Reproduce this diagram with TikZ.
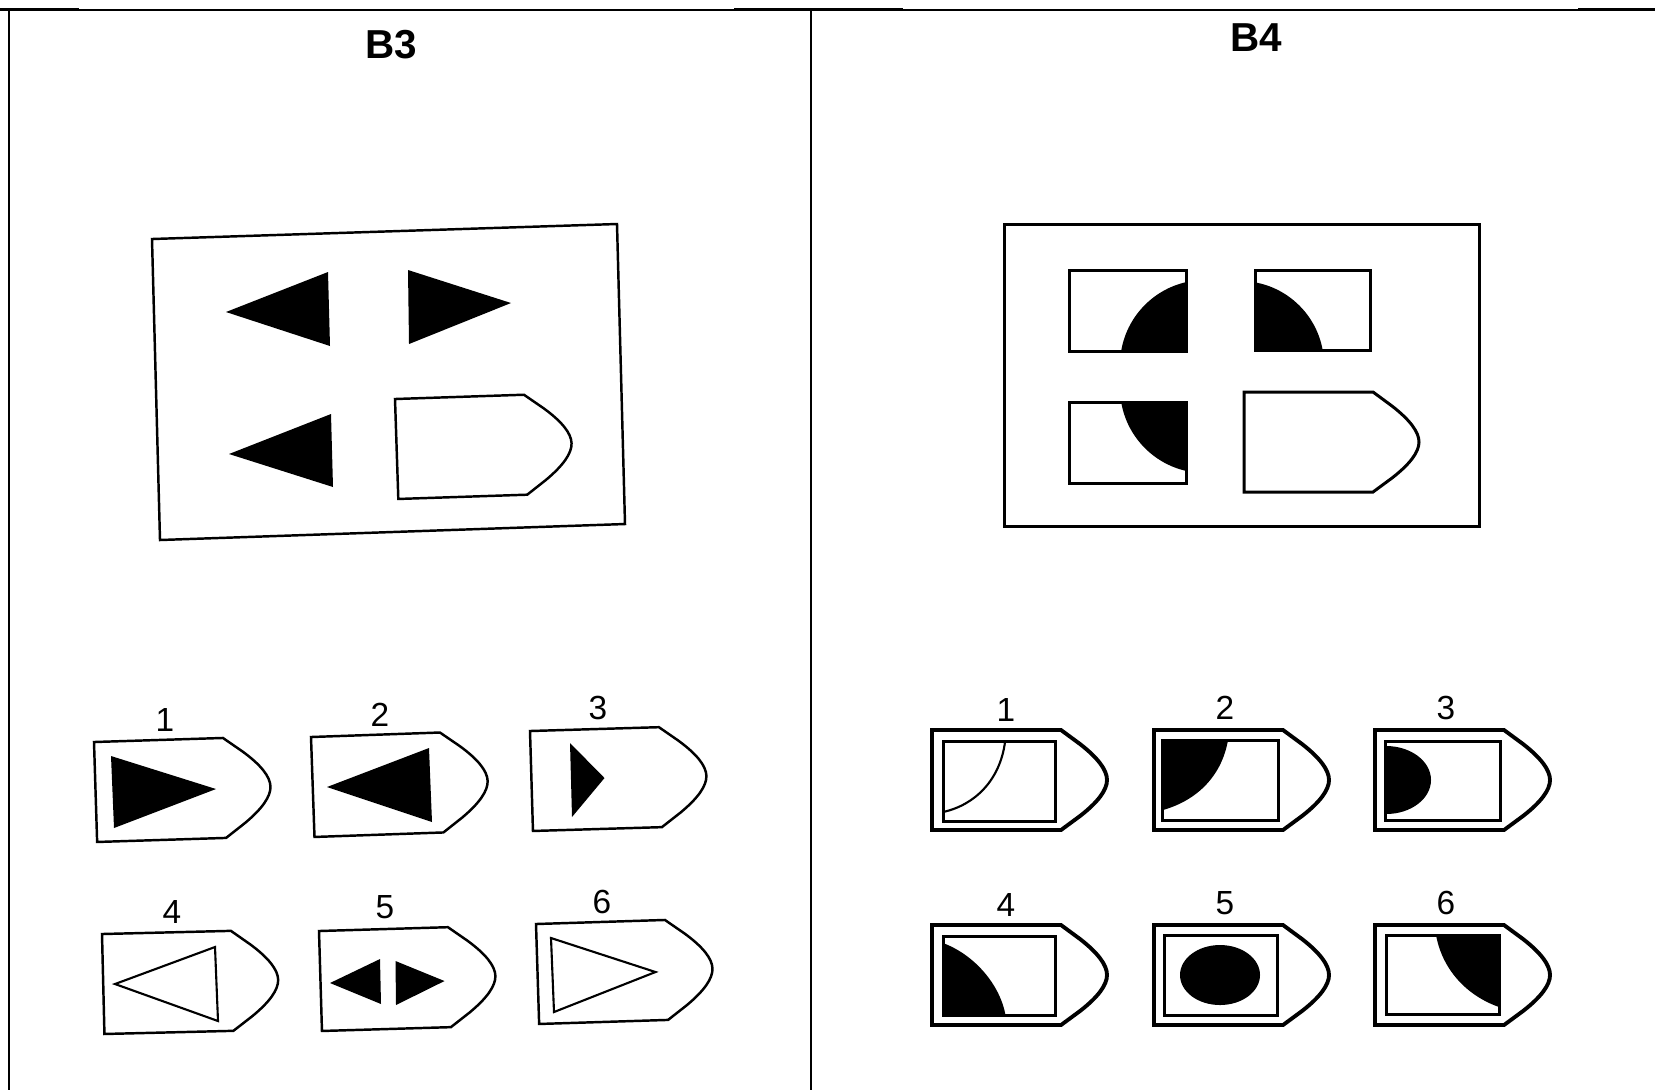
\documentclass[tikz,border=0pt]{standalone}
\usepackage{fontspec}
\setmainfont{Liberation Sans}

\begin{document}
\begin{tikzpicture}[x=0.01cm, y=-0.01cm,
    frame/.style={line width=0.4pt},
    figline/.style={line width=0.7pt},
    boldline/.style={line width=0.85pt},
    heavyline/.style={line width=1.1pt},
    title/.style={font=\fontsize{11.5}{14}\selectfont\bfseries},
    num/.style={font=\fontsize{9.5}{11}\selectfont},
    tagshape/.pic={
      \draw[pic actions] (0,0) -- (129,0) -- (148,14)
        .. controls (166,28) and (175,40) .. (175,50)
        .. controls (175,60) and (166,72) .. (148,86)
        -- (129,100) -- (0,100) -- cycle;
    }]
    \useasboundingbox (0,0) rectangle (1655,1090);

    % table rules
    \draw[frame] (0,9.8) -- (1655,9.8);
    \draw[line width=0.9pt] (0,9.5) -- (79,9.5);
    \draw[line width=0.9pt] (734,9.5) -- (903,9.5);
    \draw[line width=0.9pt] (1578,9.5) -- (1655,9.5);
    \draw[frame] (9,9.8) -- (9,1090);
    \draw[frame] (811,9.8) -- (811,1090);

    \node[title] (b3) at (391,45) {B3};
    \node[title] (b4) at (1256,38) {B4};

    % B3 matrix
    \draw[figline] (152,239) -- (617,224) -- (625,524) -- (160,540) -- cycle;
    \fill[black] (226,312) -- (328,272) -- (330,346) -- cycle;
    \fill[black] (408,270) -- (511,303) -- (409,344) -- cycle;
    \fill[black] (229,454) -- (331,414) -- (333,487) -- cycle;
    \pic[figline, rotate=1.9] at (395,399) {tagshape};

    % B3 answers
    \node[num] (a1) at (165,720) {1};
    \pic[figline, rotate=1.8] at (94,742) {tagshape};
    \fill[black] (111,756) -- (216,789) -- (114,828) -- cycle;

    \node[num] (a2) at (380,715) {2};
    \pic[figline, rotate=2] at (311,737) {tagshape};
    \fill[black] (327,787) -- (429,748) -- (432,822) -- cycle;

    \node[num] (a3) at (598,708) {3};
    \pic[figline, rotate=1.7] at (530,731) {tagshape};
    \fill[black] (570,743) -- (604.5,778) -- (572,817) -- cycle;

    \node[num] (a4) at (172,912) {4};
    \pic[figline, rotate=1.4] at (102,934) {tagshape};
    \draw[line width=0.6pt] (115,984) -- (215,947) -- (218,1021) -- cycle;

    \node[num] (a5) at (385,907) {5};
    \pic[figline, rotate=1.7] at (319,931) {tagshape};
    \fill[black] (330,983) -- (380,959) -- (381,1004) -- cycle;
    \fill[black] (395.5,961) -- (444.5,981) -- (396,1005) -- cycle;

    \node[num] (a6) at (602,902) {6};
    \pic[figline, rotate=1.8] at (536,924) {tagshape};
    \draw[line width=0.6pt] (551,938) -- (655.5,972) -- (554,1012) -- cycle;

    % B4 matrix
    \draw[boldline] (1004,224) rectangle (1479,526);
    \begin{scope}
      \clip (1069,270) rectangle (1186,351);
      \fill[black] (1205,365) circle (85);
    \end{scope}
    \draw[boldline] (1069,270) rectangle (1186,351);
    \begin{scope}
      \clip (1255,270) rectangle (1370,350);
      \fill[black] (1240,365) circle (84);
    \end{scope}
    \draw[boldline] (1255,270) rectangle (1370,350);
    \begin{scope}
      \clip (1069,402) rectangle (1186,483);
      \fill[black] (1205,388) circle (85);
    \end{scope}
    \draw[boldline] (1069,402) rectangle (1186,483);
    \pic[boldline] at (1244,392) {tagshape};

    % B4 answers
    \node[num] (c1) at (1006,710) {1};
    \pic[heavyline] at (932,730) {tagshape};
    \draw[line width=0.6pt] (1005,742) .. controls (1000,780) and (975,805) .. (943,812);
    \draw[boldline] (943,741) rectangle (1055,821);

    \node[num] (c2) at (1225,708) {2};
    \pic[heavyline] at (1154,730) {tagshape};
    \fill[black] (1162,740) -- (1228,740) .. controls (1222,775) and (1198,800) .. (1163,810) -- cycle;
    \draw[boldline] (1162,740) rectangle (1278,820);

    \node[num] (c3) at (1446,708) {3};
    \pic[heavyline] at (1375,730) {tagshape};
    \begin{scope}
      \clip (1385,741) rectangle (1500,820);
      \fill[black] (1386,780) ellipse [x radius=45, y radius=34];
    \end{scope}
    \draw[boldline] (1385,741) rectangle (1500,820);

    \node[num] (c4) at (1006,905) {4};
    \pic[heavyline] at (932,925) {tagshape};
    \fill[black] (943,943) .. controls (975,955) and (1000,985) .. (1005.5,1015) -- (943,1015) -- cycle;
    \draw[boldline] (943,936) rectangle (1055,1015);

    \node[num] (c5) at (1225,903) {5};
    \pic[heavyline] at (1154,925) {tagshape};
    \draw[boldline] (1164,935) rectangle (1277,1015);
    \fill[black] (1220,975) ellipse [x radius=40, y radius=30];

    \node[num] (c6) at (1446,903) {6};
    \pic[heavyline] at (1375,925) {tagshape};
    \fill[black] (1436,935) .. controls (1442,968) and (1465,995) .. (1499,1007) -- (1499,935) -- cycle;
    \draw[boldline] (1386,935) rectangle (1499,1014);
\end{tikzpicture}
\end{document}
